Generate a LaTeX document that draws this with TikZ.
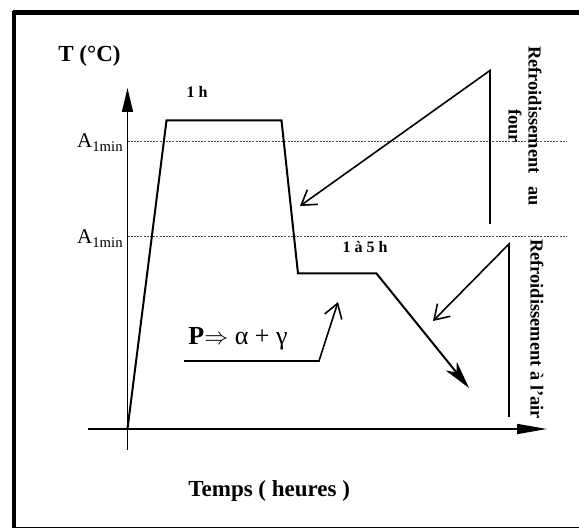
\documentclass[tikz,border=0pt]{standalone}
\usepackage{fontspec}
\setmainfont{Liberation Serif}
\usetikzlibrary{arrows.meta}

\begin{document}
\begin{tikzpicture}[x=0.5pt,y=-0.5pt]

  % --- Rahmen ---
  \useasboundingbox (0,0) rectangle (579,529);
  \fill[white] (0,0) rectangle (579,529);

  % --- Stile ---
  \tikzset{
    kurve/.style={line width=1pt, line join=miter},
    achse/.style={line width=0.8pt},
    grenze/.style={line width=0.5pt, black!70, dash pattern=on 1pt off 0.6pt},
    pfeil/.style={line width=0.8pt, -{Straight Barb[length=7pt,width=9pt]}},
    etikett/.style={font=\bfseries\fontsize{8}{9}\selectfont},
    hinweis/.style={rotate=-90, font=\bfseries\fontsize{9.2}{10}\selectfont},
  }

  \draw[line width=2pt] (14,528) -- (14,11.5);
  \draw[line width=2.5pt] (13,12.5) -- (579,12.5);
  \draw[line width=0.6pt] (14,527.5) -- (579,527.5);

  % --- Achsen ---
  \coordinate (O) at (127.5,429);
  \coordinate (ytop) at (127.5,88);
  \coordinate (ybot) at (127.5,450);
  \coordinate (xlinks) at (88,429);
  \coordinate (xrechts) at (547,429);
  \draw[achse, -{Triangle[length=12pt,width=5.5pt]}] (ybot) -- (ytop);
  \draw[achse, -{Triangle[length=15pt,width=5pt]}] (xlinks) -- (xrechts);

  \node[anchor=base west, inner sep=0pt, font=\bfseries\fontsize{11.5}{13}\selectfont] (tlabel) at (58,61.5) {T (°C)};
  \node[anchor=base west, inner sep=0pt, font=\bfseries\fontsize{11.5}{13}\selectfont] (zeit) at (188,496) {Temps ( heures )};

  % --- Grenztemperaturen (A1min) ---
  \draw[grenze] (127.5,141.5) -- (567,141.5);
  \draw[grenze] (127.5,236.5) -- (567,236.5);
  \node[anchor=base east, inner sep=0pt, font=\fontsize{10.5}{12}\selectfont] (aoben) at (124,148) {A\textsubscript{1min}};
  \node[anchor=base east, inner sep=0pt, font=\fontsize{10.5}{12}\selectfont] (aunten) at (124,244) {A\textsubscript{1min}};

  % --- Temperaturverlauf ---
  \coordinate (p1) at (166.5,120.5);
  \coordinate (p2) at (281.5,120.5);
  \coordinate (p3) at (298,273.5);
  \coordinate (p4) at (376.5,273.5);
  \coordinate (p5) at (469,388);
  \draw[kurve, -{Stealth[length=14pt,width=7pt,inset=4pt]}] (O) -- (p1) -- (p2) -- (p3) -- (p4) -- (p5);

  \node[etikett] (haltezeit) at (197,92) {1 h};
  \node[etikett] (haltezeit2) at (365,247) {1 à 5 h};

  % --- Abkuehlung im Ofen ---
  \coordinate (f1) at (490,224);
  \coordinate (f2) at (490,70.5);
  \coordinate (f3) at (300,206);
  \draw[pfeil] (f1) -- (f2) -- (f3);
  \node[hinweis, align=center] (ofen) at (525,126) {Refroidissement\hspace{0.7em}au\\four};

  % --- Abkuehlung an Luft ---
  \coordinate (l1) at (509,417);
  \coordinate (l2) at (509,244);
  \coordinate (l3) at (433,321);
  \draw[pfeil] (l1) -- (l2) -- (l3);
  \node[hinweis] (luft) at (537,329) {Refroidissement à l'air};

  % --- Umwandlung ---
  \node[anchor=base west, inner sep=0pt, font=\fontsize{13}{15}\selectfont] (reaktion) at (188,345) {\textbf{P}$\Rightarrow$ α + γ};
  \coordinate (u1) at (184,361);
  \coordinate (u2) at (319,361);
  \coordinate (u3) at (338,302);
  \draw[pfeil] (u1) -- (u2) -- (u3);

\end{tikzpicture}
\end{document}
